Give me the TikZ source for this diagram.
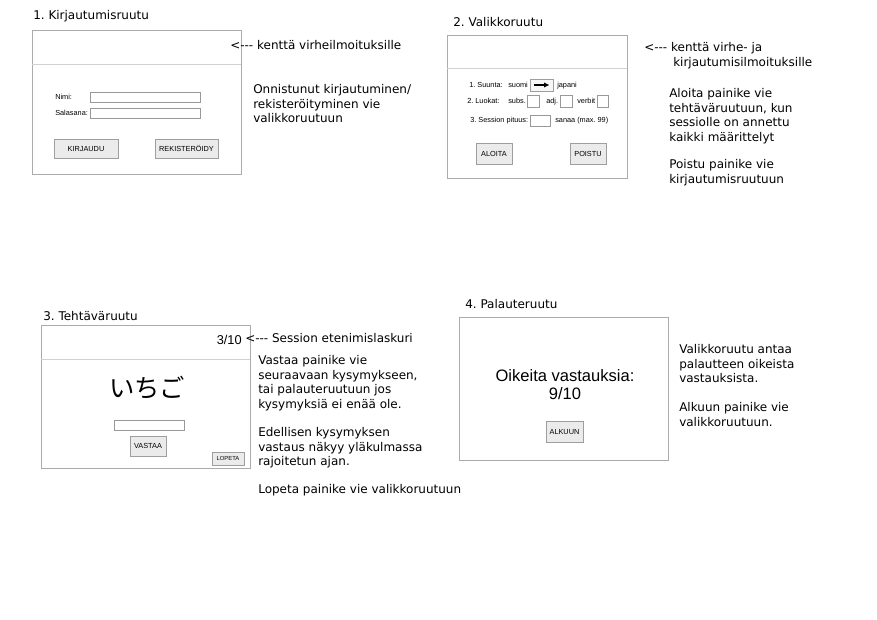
\documentclass[tikz,border=0pt]{standalone}
\usepackage{fontspec}
\setmainfont{DejaVu Sans}
\newfontfamily\uifont{Liberation Sans}
\newfontfamily\jpfont{Noto Sans CJK JP}
\usetikzlibrary{arrows.meta}
\begin{document}
\frenchspacing
\begin{tikzpicture}[x=0.75pt,y=-0.75pt,
 screen/.style={draw=black!33, line width=0.6pt},
 sepline/.style={draw=black!18, line width=0.5pt},
 note/.style={anchor=north west, inner sep=0pt, align=left, font=\fontsize{9}{10.9}\selectfont},
 titletext/.style={anchor=base west, inner sep=0pt, font=\fontsize{9}{10.9}\selectfont},
 ui/.style={anchor=base west, inner sep=0pt, font=\uifont\fontsize{5.5}{6.5}\selectfont},
 field/.style={draw=black!40, fill=white, line width=0.4pt},
 btn/.style={draw=black!38, fill=black!8, line width=0.5pt, inner sep=0pt, text height=3.95pt, text depth=0pt, font=\uifont\fontsize{5.5}{6.5}\selectfont}
]
\fill[white] (0,0) rectangle (877,620);
\useasboundingbox (0,0) rectangle (877,620);

% ---------- 1. Kirjautumisruutu ----------
\node[titletext] (t1) at (33,19.4) {1. Kirjautumisruutu};
\draw[screen] (32,30) rectangle (241,174);
\draw[sepline] (32,64) -- (241,64);
\node[titletext] (e1) at (230,49.4) {<{-}{-}{-} kenttä virheilmoituksille};
\node[ui] (nimi) at (55,99.6) {Nimi:};
\draw[field] (90,92) rectangle (200,102);
\node[ui] (salasana) at (55,115.6) {Salasana:};
\draw[field] (90,108) rectangle (200,118);
\node[btn, minimum width=48pt, minimum height=14.25pt] (kirjaudu) at (86,148.5) {KIRJAUDU};
\node[btn, minimum width=47.25pt, minimum height=14.25pt] (rek) at (186.5,148.5) {REKISTERÖIDY};
\node[note] (n1) at (253,84.5) {Onnistunut kirjautuminen/\\rekisteröityminen vie\\valikkoruutuun};

% ---------- 2. Valikkoruutu ----------
\node[titletext] (t2) at (453,26.4) {2. Valikkoruutu};
\draw[screen] (447,35) rectangle (627,178);
\draw[sepline] (447,68) -- (627,68);
\node[titletext] (e2) at (644,51.4) {<{-}{-}{-} kenttä virhe- ja};
\node[titletext] (e2b) at (673,66.4) {kirjautumisilmoituksille};
\node[ui] (suunta) at (469,87.6) {1. Suunta:};
\node[ui] (suomi) at (508,87.6) {suomi};
\node[btn, minimum width=17.25pt, minimum height=9pt, fill=black!3] (dir) at (541.5,85) {};
\draw[-{Latex[length=4pt,width=4pt]}, line width=1.3pt] ([xshift=-6pt]dir.center) -- ([xshift=6pt]dir.center);
\node[ui] (japani) at (557,87.6) {japani};
\node[ui] (luokat) at (467,103.6) {2. Luokat:};
\node[ui] (subs) at (508,103.6) {subs.};
\draw[field] (527,95) rectangle (539,107);
\node[ui] (adj) at (546,103.6) {adj.};
\draw[field] (560,95) rectangle (572,107);
\node[ui] (verbit) at (577,103.6) {verbit};
\draw[field] (597,95) rectangle (608,107);
\node[ui] (pituus) at (470,122.6) {3. Session pituus:};
\draw[field] (530,115) rectangle (550,126);
\node[ui] (sanaa) at (555,122.6) {sanaa (max. 99)};
\node[btn, minimum width=27pt, minimum height=15.75pt] (aloita) at (494,153.5) {ALOITA};
\node[btn, minimum width=27pt, minimum height=15.75pt] (poistu) at (588,153.5) {POISTU};
\node[note] (n2) at (669,88.5) {Aloita painike vie\\tehtäväruutuun, kun\\sessiolle on annettu\\kaikki määrittelyt};
\node[note] (n2b) at (669,159.5) {Poistu painike vie\\kirjautumisruutuun};

% ---------- 3. Tehtäväruutu ----------
\node[titletext] (t3) at (43,320.4) {3. Tehtäväruutu};
\draw[screen] (41,325) rectangle (250,468);
\draw[sepline] (41,359) -- (250,359);
\node[anchor=base east, inner sep=0pt, font=\uifont\fontsize{9.6}{11}\selectfont] (cnt) at (242,344.5) {3/10};
\node[titletext] (e3) at (245,342.4) {<{-}{-}{-} Session etenimislaskuri};
\node[inner sep=0pt, font=\jpfont\fontsize{19}{22}\selectfont] (word) at (147,388) {いちご};
\draw[field] (114,420) rectangle (184,430);
\node[btn, minimum width=27pt, minimum height=15pt] (vastaa) at (148,446) {VASTAA};
\node[btn, minimum width=24pt, minimum height=9.75pt, text height=3.2pt, font=\uifont\fontsize{4.4}{5}\selectfont] (lopeta) at (228,458.5) {LOPETA};
\node[note] (n3) at (258,355.5) {Vastaa painike vie\\seuraavaan kysymykseen,\\tai palauteruutuun jos\\kysymyksiä ei enää ole.};
\node[note] (n3b) at (258,427.5) {Edellisen kysymyksen\\vastaus näkyy yläkulmassa\\rajoitetun ajan.};
\node[note] (n3c) at (258,484.5) {Lopeta painike vie valikkoruutuun};

% ---------- 4. Palauteruutu ----------
\node[titletext] (t4) at (465,308.4) {4. Palauteruutu};
\draw[screen] (459,317) rectangle (668,460);
\node[align=center, inner sep=0pt, font=\uifont\fontsize{12.4}{13.5}\selectfont] (res) at (565,385) {Oikeita vastauksia:\\9/10};
\node[btn, minimum width=27.75pt, minimum height=15.75pt] (alkuun) at (564.5,431.5) {ALKUUN};
\node[note] (n4) at (679,344.5) {Valikkoruutu antaa\\palautteen oikeista\\vastauksista.};
\node[note] (n4b) at (679,402.5) {Alkuun painike vie\\valikkoruutuun.};
\end{tikzpicture}
\end{document}
